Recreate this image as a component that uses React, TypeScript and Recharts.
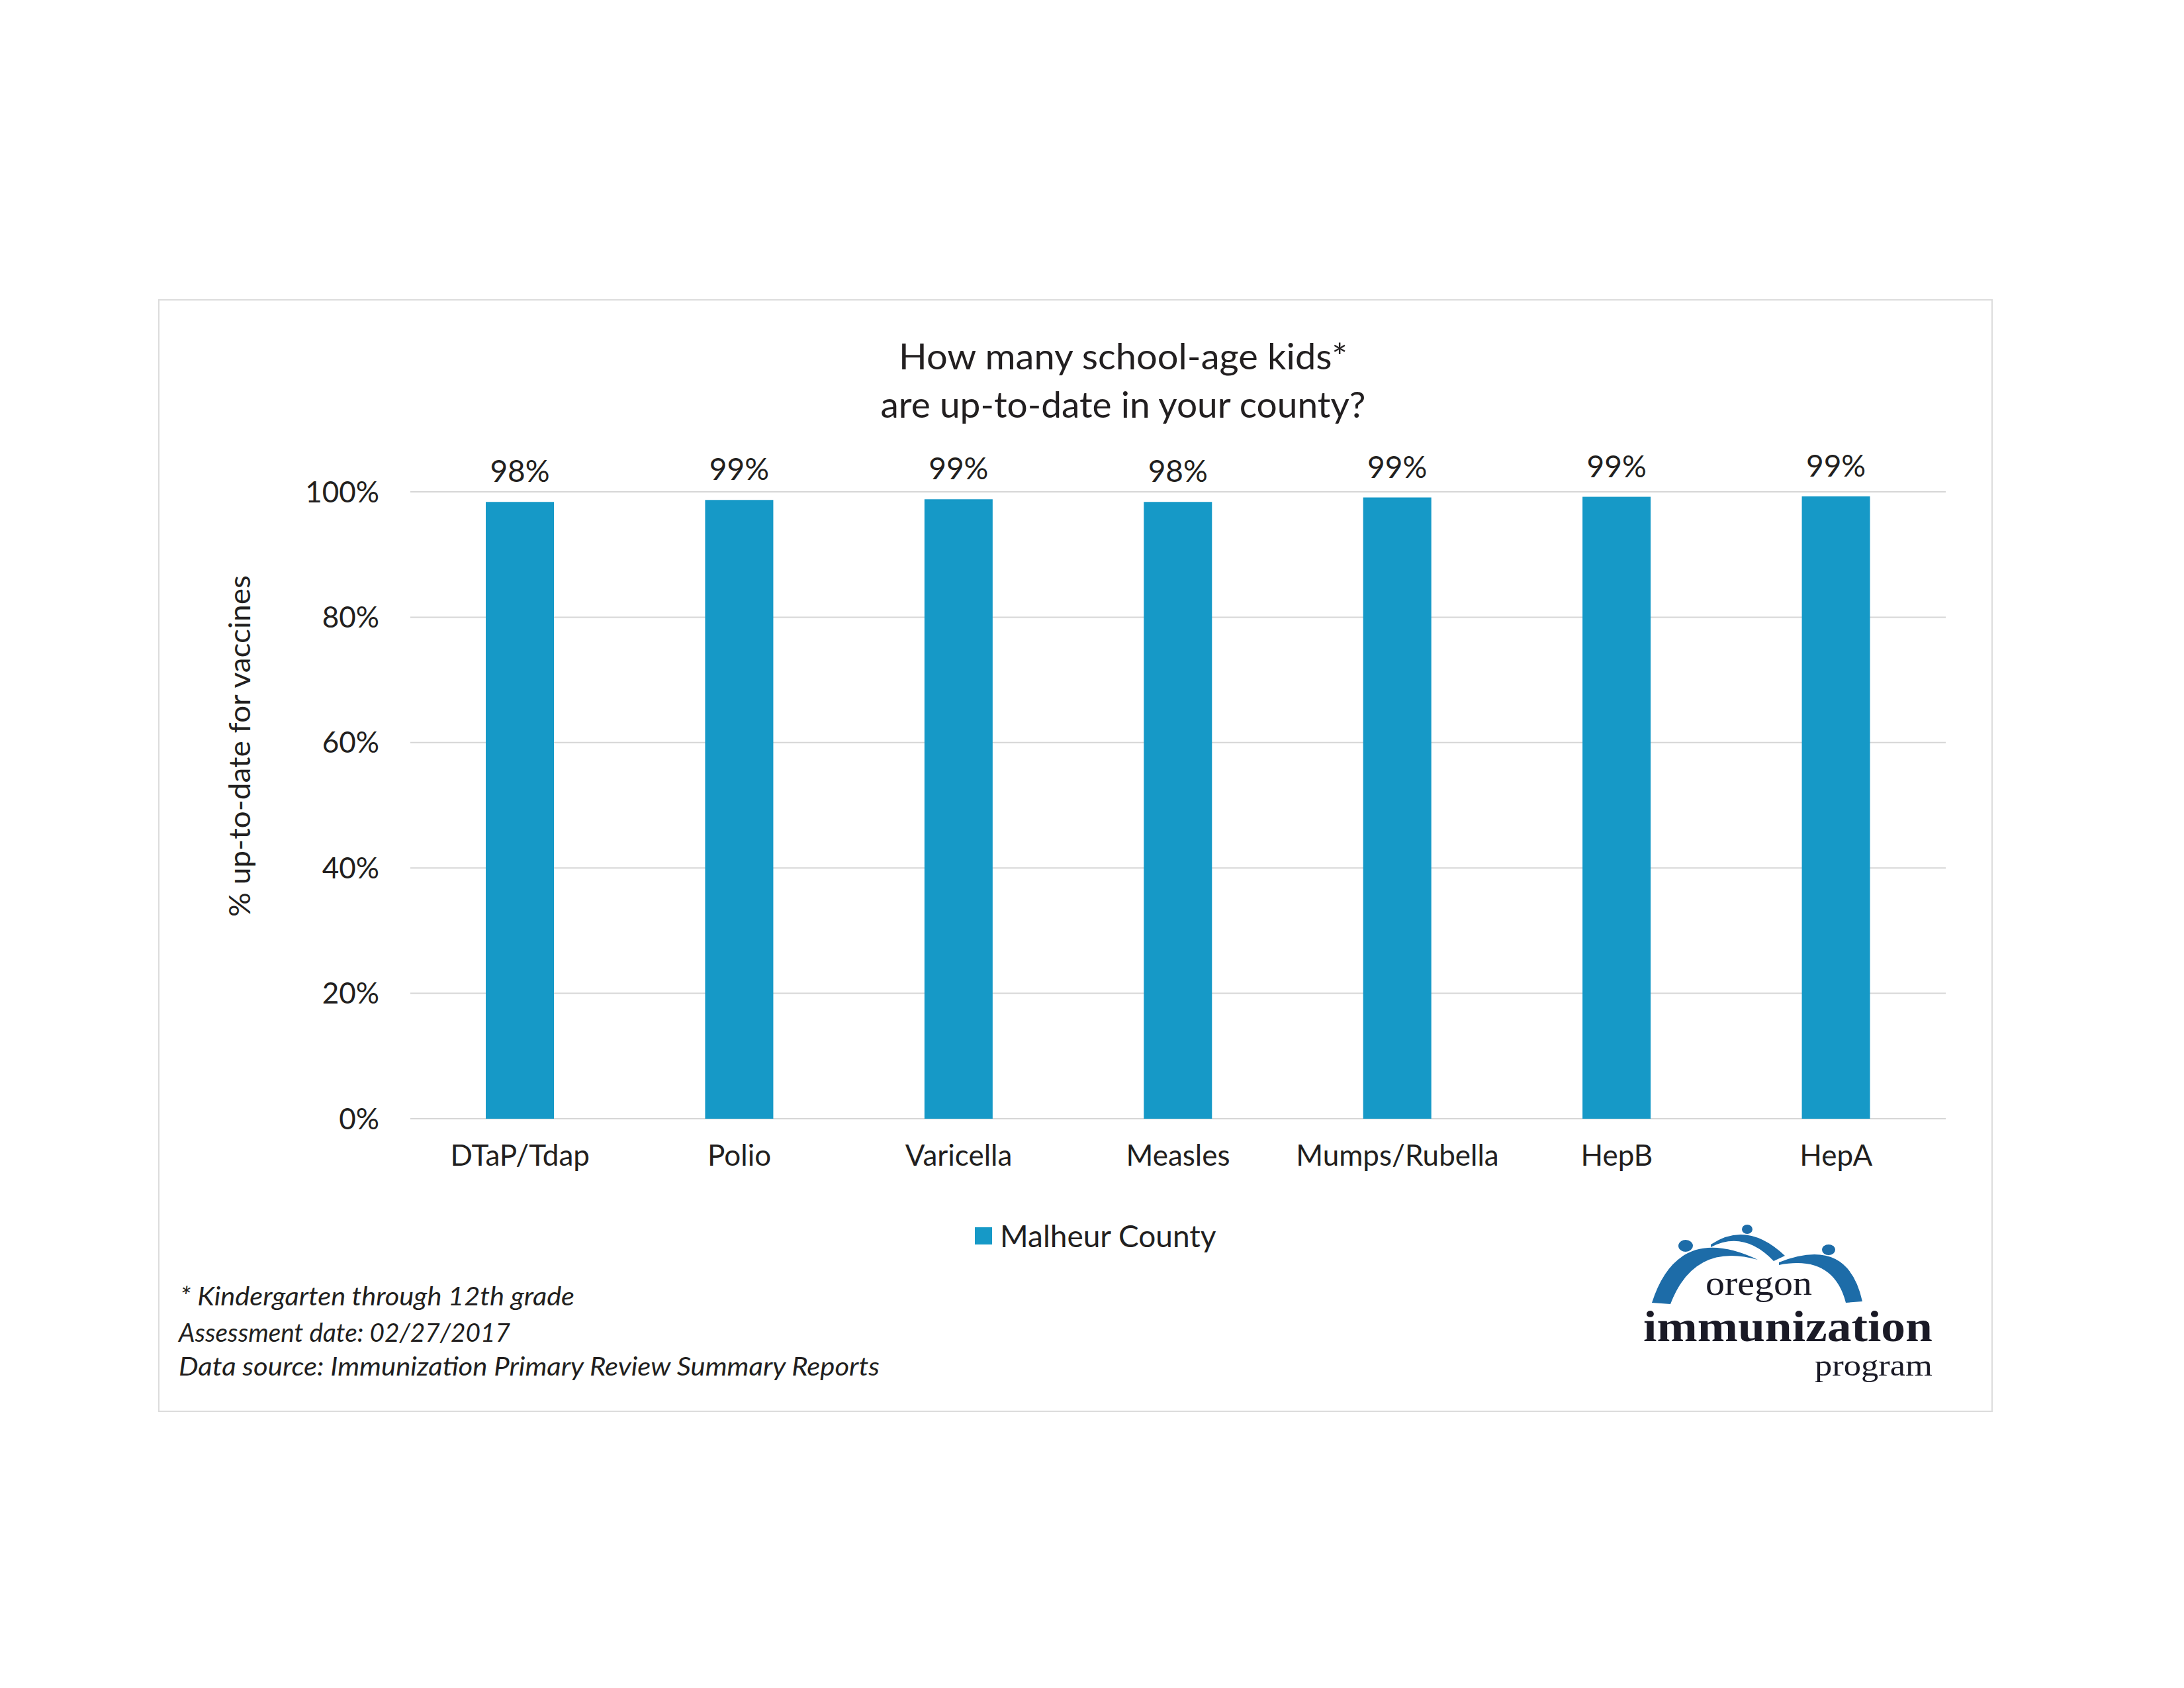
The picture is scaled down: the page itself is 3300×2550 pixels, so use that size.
import React from 'react';
import { BarChart, Bar, XAxis, YAxis, CartesianGrid, LabelList, Legend } from 'recharts';

const categories = ['DTaP/Tdap', 'Polio', 'Varicella', 'Measles', 'Mumps/Rubella', 'HepB', 'HepA'];
const malheurValues = [98.4, 98.7, 98.8, 98.4, 99.1, 99.2, 99.3];
const yTicks = [0, 20, 40, 60, 80, 100];
const seriesName = 'Malheur County';
const titleLines = ['How many school-age kids*', 'are up-to-date in your county?'];
const footnotes = [
  '* Kindergarten through 12th grade',
  'Assessment date: 02/27/2017',
  'Data source: Immunization Primary Review Summary Reports',
];
const yAxisTitle = '% up-to-date for vaccines';
const logoWords = ['oregon', 'immunization', 'program'];

const data = categories.map((c, i) => ({ category: c, value: malheurValues[i] }));

const FONT = 'Lato, "Open Sans", sans-serif';
const TEXT = '#221f20';
const BAR = '#1699c7';
const LOGO_BLUE = '#1d6ca8';

const LegendContent = () => (
  <div style={{ display: 'flex', alignItems: 'center', whiteSpace: 'nowrap', fontFamily: FONT, fontSize: 46, lineHeight: '56px', color: TEXT }}>
    <span style={{ display: 'inline-block', width: 26, height: 26, background: BAR, marginRight: 12 }} />
    <span>{seriesName}</span>
  </div>
);

export default function App() {
  return (
    <div style={{ position: 'absolute', left: 0, top: 0, width: 3300, height: 2550, background: '#fff', overflow: 'hidden' }}>
      <div style={{ position: 'absolute', left: 0, top: 0 }}>
        <BarChart width={3300} height={2550} data={data} margin={{ top: 743, right: 360, bottom: 800, left: 520 }}>
          <CartesianGrid vertical={false} stroke="#d6d6d6" strokeWidth={2} />
          <XAxis
            dataKey="category"
            height={60}
            axisLine={false}
            tickLine={false}
            tickMargin={34}
            interval={0}
            tick={{ fontFamily: FONT, fontSize: 44, fill: TEXT }}
          />
          <YAxis
            width={100}
            domain={[0, 100]}
            ticks={yTicks}
            axisLine={false}
            tickLine={false}
            tickMargin={41}
            tickFormatter={(v: number) => `${v}%`}
            tick={{ fontFamily: FONT, fontSize: 44, fill: TEXT }}
          />
          <Legend
            layout="vertical"
            verticalAlign="middle"
            align="center"
            wrapperStyle={{ left: 1473, top: 1839 }}
            content={() => <LegendContent />}
          />
          <Bar dataKey="value" name={seriesName} fill={BAR} barSize={103} isAnimationActive={false}>
            <LabelList
              dataKey="value"
              position="top"
              offset={30}
              formatter={(v: number) => `${Math.round(v)}%`}
              style={{ fontFamily: FONT, fontSize: 46, fill: TEXT }}
            />
          </Bar>
        </BarChart>
      </div>
      <svg width={3300} height={2550} style={{ position: 'absolute', left: 0, top: 0, pointerEvents: 'none' }}>
        <rect x={240} y={453} width={2770} height={1679} fill="none" stroke="#dcdcdc" strokeWidth={2} />
        <text x={1697} y={558} textAnchor="middle" fontFamily={FONT} fontSize={55} fill={TEXT} textLength={678} lengthAdjust="spacingAndGlyphs">{titleLines[0]}</text>
        <text x={1697} y={631} textAnchor="middle" fontFamily={FONT} fontSize={55} fill={TEXT} textLength={733} lengthAdjust="spacingAndGlyphs">{titleLines[1]}</text>
        <text transform="translate(378,1127) rotate(-90)" textAnchor="middle" fontFamily={FONT} fontSize={45} fill={TEXT} textLength={516} lengthAdjust="spacingAndGlyphs">{yAxisTitle}</text>
        <text x={272} y={1972} fontFamily={FONT} fontStyle="italic" fontSize={39} fill={TEXT} textLength={596} lengthAdjust="spacingAndGlyphs">{footnotes[0]}</text>
        <text x={270} y={2027} fontFamily={FONT} fontStyle="italic" fontSize={39} fill={TEXT} textLength={501} lengthAdjust="spacingAndGlyphs">{footnotes[1]}</text>
        <text x={270} y={2078} fontFamily={FONT} fontStyle="italic" fontSize={39} fill={TEXT} textLength={1059} lengthAdjust="spacingAndGlyphs">{footnotes[2]}</text>
        <g fill={LOGO_BLUE}>
          <path d="M 2496 1968 Q 2535 1846 2656 1903 Q 2560 1876 2524 1970 Z" />
          <ellipse cx={2547} cy={1882} rx={11} ry={9} />
          <path d="M 2585 1880 Q 2640 1843 2697 1897 L 2680 1905 Q 2635 1858 2585 1884 Z" />
          <ellipse cx={2640} cy={1857} rx={8} ry={7} />
          <path d="M 2688 1907 Q 2792 1866 2814 1966 L 2789 1968 Q 2770 1895 2688 1911 Z" />
          <ellipse cx={2763} cy={1888} rx={10} ry={8} />
        </g>
        <text x={2577} y={1956} fontFamily='"Liberation Serif", serif' fontSize={52} fill="#1a1a26" textLength={161} lengthAdjust="spacingAndGlyphs">{logoWords[0]}</text>
        <text x={2483} y={2026} fontFamily='"Liberation Serif", serif' fontWeight="bold" fontSize={66} fill="#1a1a26" textLength={437} lengthAdjust="spacingAndGlyphs">{logoWords[1]}</text>
        <text x={2742} y={2078} fontFamily='"Liberation Serif", serif' fontSize={46} fill="#1a1a26" textLength={178} lengthAdjust="spacingAndGlyphs">{logoWords[2]}</text>
      </svg>
    </div>
  );
}
